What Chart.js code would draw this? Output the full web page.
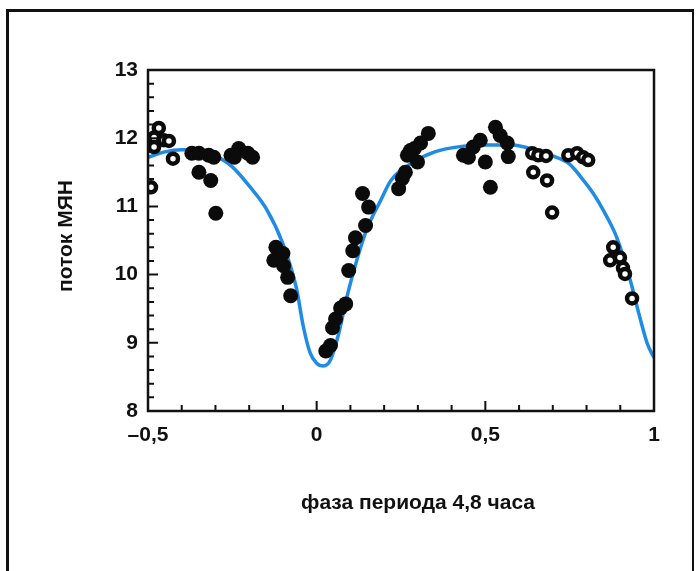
<!DOCTYPE html>
<html>
<head>
<meta charset="utf-8">
<script src="https://cdn.jsdelivr.net/npm/chart.js@4"></script>
<style>
    html, body { margin: 0; padding: 0; background: #fff; }
    #wrap { position: relative; width: 697px; height: 571px; overflow: hidden; }
    #border { position: absolute; left: 6px; top: 9px; width: 683px; height: 600px;
              border-left: 3px solid #111; border-top: 3px solid #111; border-right: 2px solid #111; }
</style>
</head>
<body>
<div id="wrap">
    <div id="border"></div>
    <canvas id="phaseChart" width="697" height="571"></canvas>
</div>
<script>
// filled dots: phase, flux
const filledX = [-0.37, -0.349, -0.32, -0.305, -0.349, -0.314, -0.299, -0.254, -0.244, -0.231, -0.204, -0.19,
    -0.127, -0.121, -0.11, -0.10, -0.098, -0.086, -0.077,
    0.027, 0.041, 0.047, 0.056, 0.071, 0.086, 0.095, 0.107, 0.115, 0.136, 0.145, 0.154,
    0.243, 0.254, 0.263, 0.269, 0.278, 0.29, 0.299, 0.308, 0.331,
    0.435, 0.45, 0.464, 0.485, 0.50, 0.515, 0.53, 0.544, 0.565, 0.568];
const filledY = [11.78, 11.78, 11.75, 11.72, 11.50, 11.38, 10.90, 11.75, 11.72, 11.85, 11.78, 11.72,
    10.21, 10.40, 10.30, 10.31, 10.13, 9.96, 9.69,
    8.88, 8.96, 9.22, 9.35, 9.51, 9.57, 10.06, 10.35, 10.54, 11.19, 10.72, 10.99,
    11.26, 11.41, 11.50, 11.75, 11.82, 11.85, 11.65, 11.93, 12.07,
    11.75, 11.72, 11.87, 11.97, 11.65, 11.28, 12.16, 12.04, 11.93, 11.73];

// open circles
const openX = [-0.491, -0.482, -0.482, -0.468, -0.453, -0.438, -0.426,
    0.639, 0.642, 0.657, 0.68, 0.683, 0.698, 0.746, 0.772, 0.79, 0.805,
    0.87, 0.879, 0.899, 0.908, 0.914, 0.935];
const openY = [11.28, 12.01, 11.87, 12.15, 11.97, 11.96, 11.70,
    11.78, 11.50, 11.75, 11.74, 11.38, 10.91, 11.75, 11.78, 11.72, 11.68,
    10.21, 10.40, 10.25, 10.10, 10.01, 9.65];

// model curve
const curveX = [-0.5, -0.45, -0.4, -0.35, -0.3, -0.25, -0.2, -0.15, -0.1, -0.06, -0.04, -0.02, 0, 0.02, 0.04,
    0.065, 0.09, 0.12, 0.15, 0.19, 0.22, 0.28, 0.35, 0.43, 0.5, 0.58, 0.65, 0.7, 0.75, 0.78, 0.82, 0.86,
    0.89, 0.93, 0.955, 0.98, 1.0];
const curveY = [11.72, 11.80, 11.83, 11.82, 11.74, 11.58, 11.30, 10.97, 10.45, 9.80, 9.25, 8.86, 8.70, 8.66, 8.74,
    9.13, 9.68, 10.23, 10.68, 11.09, 11.38, 11.63, 11.80, 11.88, 11.90, 11.90, 11.82, 11.74, 11.62, 11.45, 11.19, 10.85,
    10.54, 9.91, 9.43, 8.99, 8.78];

const xLabelVals = [-0.5, 0, 0.5, 1];
const xLabelText = ['\u20130,5', '0', '0,5', '1'];
const yLabelVals = [8, 9, 10, 11, 12, 13];

const xTitle = 'фаза периода 4,8 часа';
const yTitle = 'поток МЯН';

const FONT = '"Liberation Sans", Arial, sans-serif';

function toPoints(xs, ys) {
    return xs.map((x, i) => ({ x: x, y: ys[i] }));
}

function isNear(v, list) {
    return list.findIndex(t => Math.abs(v - t) < 1e-6);
}

// frame, inward ticks and axis titles
const framePlugin = {
    id: 'frame',
    afterDatasetsDraw(chart) {
        const c = chart.ctx;
        const a = chart.chartArea;
        const xs = chart.scales.x;
        const ys = chart.scales.y;
        c.save();
        c.strokeStyle = '#111';
        c.lineWidth = 2.5;
        c.strokeRect(a.left, a.top, a.right - a.left, a.bottom - a.top);

        c.lineWidth = 2;
        c.beginPath();
        for (let k = 0; k <= 15; k++) {
            const v = -0.5 + k * 0.1;
            const px = xs.getPixelForValue(v);
            const len = (k % 5 === 0) ? 10 : 6;
            c.moveTo(px, a.bottom);
            c.lineTo(px, a.bottom - len);
        }
        for (let k = 0; k <= 25; k++) {
            const v = 8 + k * 0.2;
            const py = ys.getPixelForValue(v);
            const len = (k % 5 === 0) ? 10 : 6;
            c.moveTo(a.left, py);
            c.lineTo(a.left + len, py);
        }
        c.stroke();

        c.fillStyle = '#111';
        c.font = 'bold 21px ' + FONT;
        c.textAlign = 'center';
        c.textBaseline = 'middle';
        c.fillText(xTitle, 418, 503);
        c.translate(66, 236);
        c.rotate(-Math.PI / 2);
        c.fillText(yTitle, 0, 0);
        c.restore();
    }
};

new Chart(document.getElementById('phaseChart'), {
    type: 'scatter',
    data: {
        datasets: [
            {
                label: 'filled',
                data: toPoints(filledX, filledY),
                pointRadius: 7.5,
                pointBackgroundColor: '#0b0b0b',
                pointBorderWidth: 0,
                order: 1,
            },
            {
                label: 'open',
                data: toPoints(openX, openY),
                pointRadius: 5,
                pointBackgroundColor: '#ffffff',
                pointBorderColor: '#0b0b0b',
                pointBorderWidth: 4.5,
                order: 0,
            },
            {
                label: 'model',
                type: 'line',
                data: toPoints(curveX, curveY),
                borderColor: '#1f8be4',
                borderWidth: 3.5,
                pointRadius: 0,
                tension: 0.4,
                cubicInterpolationMode: 'monotone',
                fill: false,
                order: 2,
            },
        ],
    },
    options: {
        responsive: false,
        animation: false,
        events: [],
        layout: {
            padding: { left: 0, top: 70, right: 43, bottom: 0 },
        },
        plugins: {
            legend: { display: false },
            tooltip: { enabled: false },
        },
        scales: {
            x: {
                type: 'linear',
                min: -0.5,
                max: 1,
                afterFit: (scale) => { scale.height = 160; },
                afterBuildTicks: (scale) => { scale.ticks = xLabelVals.map(v => ({ value: v })); },
                grid: { display: false, drawTicks: false },
                border: { display: false },
                ticks: {
                    padding: 12,
                    color: '#111',
                    font: { family: FONT, size: 21, weight: 'bold' },
                    callback: (v) => { const i = isNear(v, xLabelVals); return i < 0 ? '' : xLabelText[i]; },
                },
            },
            y: {
                type: 'linear',
                min: 8,
                max: 13,
                afterFit: (scale) => { scale.width = 148; },
                afterBuildTicks: (scale) => { scale.ticks = yLabelVals.map(v => ({ value: v })); },
                grid: { display: false, drawTicks: false },
                border: { display: false },
                ticks: {
                    padding: 10,
                    color: '#111',
                    font: { family: FONT, size: 21, weight: 'bold' },
                    callback: (v) => String(v),
                },
            },
        },
    },
    plugins: [framePlugin],
});
</script>
</body>
</html>
